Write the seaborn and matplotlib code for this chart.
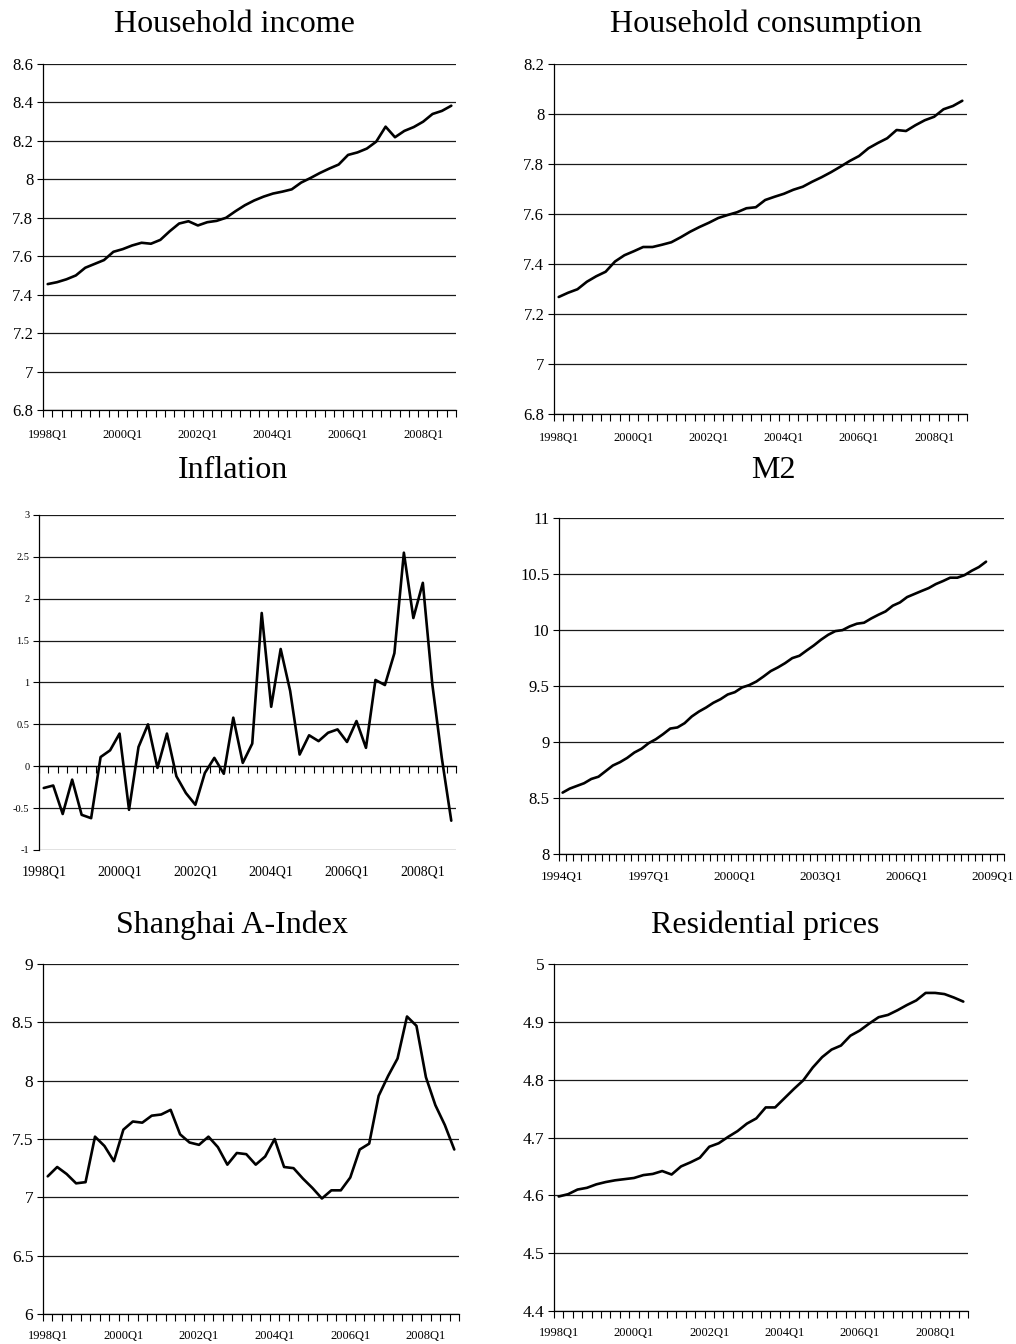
import numpy as np
import matplotlib
matplotlib.use("Agg")
import matplotlib.pyplot as plt
from matplotlib.ticker import FixedLocator
import seaborn as sns

# quarterly category labels
quarters_98 = [f"{y}Q{q}" for y in range(1998, 2009) for q in range(1, 5)]
quarters_94 = [f"{y}Q{q}" for y in range(1994, 2010) for q in range(1, 5)][:62]

income = [7.455, 7.465, 7.48, 7.50, 7.54, 7.56, 7.58, 7.623, 7.637, 7.656, 7.67,
          7.665, 7.685, 7.73, 7.77, 7.782, 7.76, 7.777, 7.784, 7.80, 7.834, 7.865,
          7.89, 7.91, 7.926, 7.936, 7.948, 7.983, 8.007, 8.033, 8.056, 8.077,
          8.127, 8.14, 8.16, 8.196, 8.274, 8.219, 8.252, 8.272, 8.30, 8.34,
          8.356, 8.383]

consumption = [7.268, 7.285, 7.299, 7.329, 7.351, 7.369, 7.41, 7.435, 7.451, 7.468,
               7.468, 7.477, 7.487, 7.507, 7.529, 7.548, 7.565, 7.584, 7.596, 7.607,
               7.623, 7.627, 7.656, 7.669, 7.681, 7.697, 7.709, 7.729, 7.747, 7.767,
               7.789, 7.812, 7.832, 7.863, 7.884, 7.903, 7.936, 7.932, 7.955, 7.975,
               7.989, 8.019, 8.032, 8.053]

inflation = [-0.26, -0.23, -0.57, -0.16, -0.58, -0.62, 0.11, 0.19, 0.39, -0.52,
             0.23, 0.50, -0.02, 0.39, -0.12, -0.32, -0.46, -0.08, 0.10, -0.09,
             0.58, 0.04, 0.27, 1.83, 0.71, 1.40, 0.90, 0.14, 0.37, 0.30,
             0.40, 0.44, 0.29, 0.54, 0.22, 1.03, 0.97, 1.35, 2.55, 1.77,
             2.19, 0.98, 0.10, -0.65]

m2 = [8.548, 8.584, 8.608, 8.632, 8.67, 8.69, 8.74, 8.79, 8.82, 8.858,
      8.906, 8.94, 8.99, 9.025, 9.07, 9.12, 9.13, 9.168, 9.228, 9.272,
      9.308, 9.35, 9.382, 9.424, 9.445, 9.487, 9.508, 9.54, 9.585, 9.633,
      9.666, 9.704, 9.749, 9.77, 9.817, 9.862, 9.913, 9.957, 9.99, 9.999,
      10.032, 10.056, 10.065, 10.103, 10.136, 10.166, 10.217, 10.246, 10.294, 10.321,
      10.348, 10.374, 10.41, 10.437, 10.467, 10.467, 10.49, 10.529, 10.562, 10.61]

shanghai = [7.18, 7.26, 7.20, 7.12, 7.13, 7.52, 7.44, 7.31, 7.58, 7.65,
            7.64, 7.70, 7.71, 7.75, 7.54, 7.47, 7.45, 7.52, 7.43, 7.28,
            7.38, 7.37, 7.28, 7.35, 7.50, 7.26, 7.25, 7.16, 7.08, 6.99,
            7.06, 7.06, 7.17, 7.41, 7.46, 7.87, 8.04, 8.19, 8.55, 8.47,
            8.03, 7.79, 7.62, 7.41]

res_prices = [4.598, 4.602, 4.61, 4.613, 4.619, 4.623, 4.626, 4.628, 4.630, 4.635,
              4.637, 4.642, 4.636, 4.650, 4.657, 4.665, 4.684, 4.690, 4.701, 4.711,
              4.724, 4.733, 4.752, 4.752, 4.768, 4.784, 4.799, 4.821, 4.839, 4.852,
              4.859, 4.876, 4.885, 4.897, 4.908, 4.912, 4.920, 4.929, 4.937, 4.950,
              4.950, 4.948, 4.942, 4.935]

sns.set_style("white")
plt.rcParams["font.family"] = ["Liberation Serif", "DejaVu Serif"]
plt.rcParams["text.color"] = "black"
plt.rcParams["xtick.color"] = "black"
plt.rcParams["ytick.color"] = "black"

W, H = 1016, 1344
fig = plt.figure(figsize=(W / 100, H / 100), dpi=100)


def add_panel(box, title, title_xy, values, cats, step, yticks, yfmt,
              ysize=12, xsize=9, xpad=11, zero_axis=False):
    l, r, t, b = box
    ax = fig.add_axes([l / W, 1 - b / H, (r - l) / W, (b - t) / H])
    x = np.arange(len(values))
    sns.lineplot(x=x, y=values, ax=ax, color="black", linewidth=1.9)
    n = len(cats)
    ax.set_xlim(-0.5, n - 0.5)
    ax.set_ylim(yticks[0], yticks[-1])
    ax.set_yticks(yticks)
    ax.set_yticklabels([yfmt(v) for v in yticks], fontsize=ysize)
    ax.yaxis.grid(True, color="#1a1a1a", linewidth=0.9)
    ax.set_axisbelow(True)
    for s in ["top", "right"]:
        ax.spines[s].set_visible(False)
    for s in ["left", "bottom"]:
        ax.spines[s].set_color("black")
        ax.spines[s].set_linewidth(0.9)
    ax.tick_params(axis="y", direction="out", length=4, width=0.8, color="black",
                   pad=3, left=True)
    ax.xaxis.set_minor_locator(FixedLocator(np.arange(n + 1) - 0.5))
    ax.tick_params(axis="x", which="minor", direction="out", length=5,
                   width=0.8, color="black", bottom=True)
    lab_pos = list(range(0, n, step))
    lab_txt = [cats[i] for i in lab_pos]
    if zero_axis:
        ax.spines["bottom"].set_position(("data", 0))
        ax.set_xticks(lab_pos)
        ax.set_xticklabels([])
        ax.tick_params(axis="x", which="major", length=0)
        sec = ax.secondary_xaxis(0.0)
        sec.set_xticks(lab_pos)
        sec.set_xticklabels(lab_txt, fontsize=xsize)
        sec.tick_params(length=0, pad=xpad)
        for sp in sec.spines.values():
            sp.set_visible(False)
    else:
        ax.set_xticks(lab_pos)
        ax.set_xticklabels(lab_txt, fontsize=xsize)
        ax.tick_params(axis="x", which="major", length=0, pad=xpad)
    ax.set_xlabel("")
    ax.set_ylabel("")
    fig.text(title_xy[0] / W, 1 - title_xy[1] / H, title, ha="center",
             va="center", fontsize=23, color="black")
    return ax


def fmt1(v):
    s = f"{v:.1f}"
    return s[:-2] if s.endswith(".0") else s


add_panel((43, 456, 64, 410), "Household income", (234, 24), income,
          quarters_98, 8, [6.8, 7.0, 7.2, 7.4, 7.6, 7.8, 8.0, 8.2, 8.4, 8.6], fmt1,
          xpad=14)
add_panel((554, 967, 64, 414), "Household consumption", (766, 24), consumption,
          quarters_98, 8, [6.8, 7.0, 7.2, 7.4, 7.6, 7.8, 8.0, 8.2], fmt1, xpad=13)
add_panel((39, 456, 515, 850), "Inflation", (233, 470), inflation,
          quarters_98, 8, [-1, -0.5, 0, 0.5, 1, 1.5, 2, 2.5, 3], fmt1,
          ysize=7.5, xsize=10, xpad=11, zero_axis=True)
add_panel((559, 1004, 518, 854), "M2", (773, 470), m2,
          quarters_94, 12, [8, 8.5, 9, 9.5, 10, 10.5, 11], fmt1, ysize=12, xsize=9.5,
          xpad=12)
add_panel((43, 459, 964, 1314), "Shanghai A-Index", (232, 925), shanghai,
          quarters_98, 8, [6, 6.5, 7, 7.5, 8, 8.5, 9], fmt1, ysize=12.5, xpad=11.5)
add_panel((554, 968, 964, 1311), "Residential prices", (765, 925), res_prices,
          quarters_98, 8, [4.4, 4.5, 4.6, 4.7, 4.8, 4.9, 5.0], fmt1, ysize=12.5,
          xpad=11.5)

fig.savefig("out.png", dpi=100, facecolor="white")
